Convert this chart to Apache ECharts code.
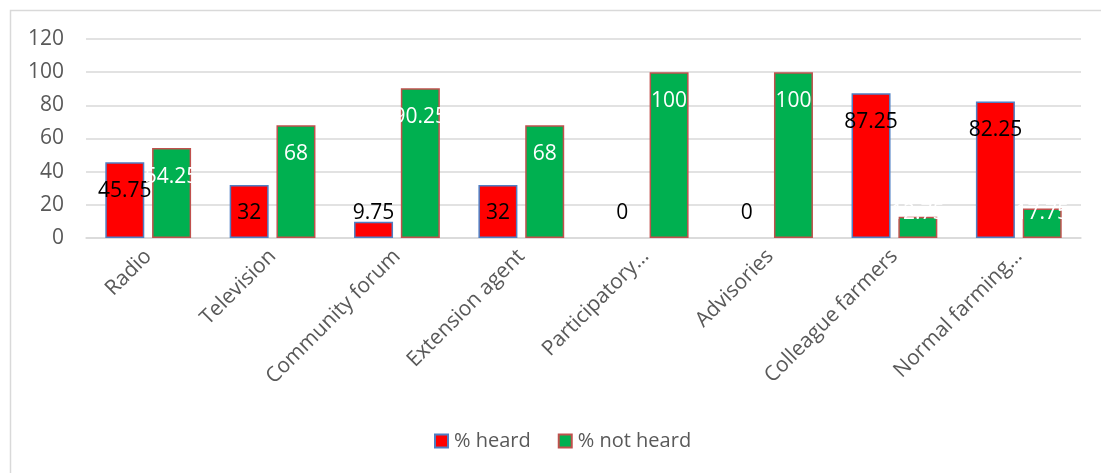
<!DOCTYPE html>
<html>
<head>
<meta charset="utf-8">
<script src="https://cdn.jsdelivr.net/npm/echarts@6/dist/echarts.min.js"></script>
<style>
  html, body { margin: 0; padding: 0; background: #ffffff; }
  #chart { width: 1101px; height: 473px; }
</style>
</head>
<body>
<div id="chart"></div>
<script>
// Sources of information and share of respondents who heard through each
const categories = ['Radio', 'Television', 'Community forum', 'Extension agent',
  'Participatory…', 'Advisories', 'Colleague farmers', 'Normal farming…'];
const heard = [45.75, 32, 9.75, 32, 0, 0, 87.25, 82.25];
const notHeard = [54.25, 68, 90.25, 68, 100, 100, 12.75, 17.75];
const yTicks = { min: 0, max: 120, step: 20 };

const FONT = '"Open Sans", "Liberation Sans", sans-serif';
const GREY = '#595959';

// Short bars get their label lifted to sit just above the axis;
// empty bars drop their outline
function withLabels(values) {
  return values.map(function (v) {
    const item = { value: v };
    if (v < 32) {
      item.label = { position: 'insideBottom', distance: 14 };
    }
    if (v === 0) {
      item.itemStyle = { borderWidth: 0 };
    }
    return item;
  });
}

const chart = echarts.init(document.getElementById('chart'), null, { renderer: 'canvas' });

chart.setOption({
  backgroundColor: '#ffffff',
  animation: false,
  graphic: [{
    type: 'rect',
    shape: { x: 10.5, y: 10.5, width: 1200, height: 600 },
    style: { fill: 'none', stroke: '#d9d9d9', lineWidth: 1.5 },
    silent: true
  }],
  grid: { left: 86, right: 20, top: 39, bottom: 235 },
  legend: {
    bottom: 17,
    left: 429,
    icon: 'rect',
    itemWidth: 13,
    itemHeight: 13,
    itemGap: 27,
    textStyle: { fontFamily: FONT, fontSize: 20, color: GREY, padding: [0, 0, 0, 1] },
    data: ['% heard', '% not heard']
  },
  xAxis: {
    type: 'category',
    data: categories,
    axisLine: { lineStyle: { color: '#d9d9d9', width: 1.5 } },
    axisTick: { show: false },
    axisLabel: {
      rotate: 45,
      interval: 0,
      margin: 15,
      fontFamily: FONT,
      fontSize: 21,
      color: GREY
    }
  },
  yAxis: {
    type: 'value',
    min: yTicks.min,
    max: yTicks.max,
    interval: yTicks.step,
    axisLine: { show: false },
    axisTick: { show: false },
    splitLine: { lineStyle: { color: '#d9d9d9', width: 1.5 } },
    axisLabel: { margin: 22, fontFamily: FONT, fontSize: 21, color: GREY }
  },
  series: [
    {
      name: '% heard',
      type: 'bar',
      barWidth: 39,
      barGap: '20%',
      data: withLabels(heard),
      itemStyle: { color: '#ff0000', borderColor: '#4f7fc4', borderWidth: 1.5 },
      label: {
        show: true,
        position: 'insideTop',
        distance: 18,
        fontFamily: FONT,
        fontSize: 21,
        color: '#000000'
      }
    },
    {
      name: '% not heard',
      type: 'bar',
      barWidth: 39,
      barGap: '20%',
      data: withLabels(notHeard),
      itemStyle: { color: '#00b050', borderColor: '#c0504d', borderWidth: 1.5 },
      label: {
        show: true,
        position: 'insideTop',
        distance: 18,
        fontFamily: FONT,
        fontSize: 21,
        color: '#ffffff'
      }
    }
  ]
});
</script>
</body>
</html>
